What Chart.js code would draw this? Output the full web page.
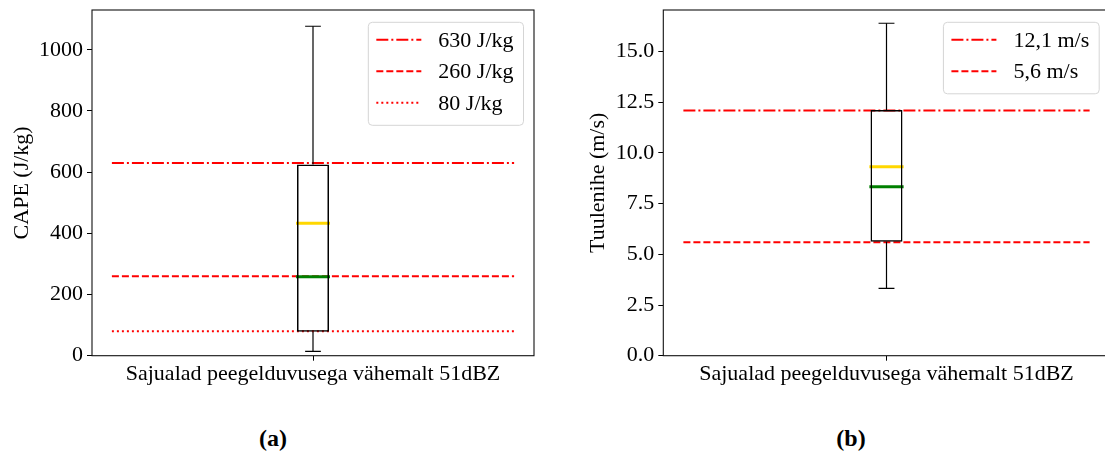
<!DOCTYPE html>
<html>
<head>
<meta charset="utf-8">
<script src="https://cdn.jsdelivr.net/npm/chart.js@4.4.1/dist/chart.umd.min.js"></script>
<style>
  html, body { margin: 0; padding: 0; background: #fff; overflow: hidden; width: 1105px; height: 452px; }
  #wrap { position: relative; width: 1105px; height: 452px; overflow: hidden; }
  canvas { position: absolute; top: 0; }
  #cA { left: 0; }
  #cB { left: 555px; }
  .cap { position: absolute; top: 424px; width: 100px; text-align: center; font: bold 24px 'Liberation Serif', serif; line-height: 28px; color: #000; }
</style>
</head>
<body>
<div id="wrap">
  <canvas id="cA" width="560" height="400"></canvas>
  <canvas id="cB" width="560" height="400"></canvas>
  <div class="cap" style="left:223px">(a)</div>
  <div class="cap" style="left:801px">(b)</div>
</div>
<script>
// ---------- data ----------
const categories = ['Sajualad peegelduvusega vähemalt 51dBZ'];
// box statistics: [lower whisker, Q1, median, mean, Q3, upper whisker]
const capeStats = [14, 78, 258, 433, 625, 1077];
const windStats = [3.32, 5.62, 8.34, 9.32, 12.12, 16.4];
// reference lines
const capeRefValues = [630, 260, 80];
const capeRefLabels = ['630 J/kg', '260 J/kg', '80 J/kg'];
const windRefValues = [12.1, 5.6];
const windRefLabels = ['12,1 m/s', '5,6 m/s'];
// tick values
const capeTicks = [0, 200, 400, 600, 800, 1000];
const windTicks = [0, 2.5, 5, 7.5, 10, 12.5, 15];

// ---------- styles ----------
const FONT = "'Liberation Serif', 'Times New Roman', serif";
Chart.defaults.font.family = FONT;
Chart.defaults.font.size = 22;
Chart.defaults.color = '#000';
const DASHES = [[12, 3, 2, 3], [7, 3], [2, 3]];
const BOX_X = 1, CAP_HALF = 0.0178, MED_HALF = 0.035, REF_X0 = 0.545, REF_X1 = 1.455;

const framePlugin = {
  id: 'frame',
  afterDraw(chart) {
    const { ctx, chartArea: a } = chart;
    ctx.save();
    ctx.strokeStyle = '#111';
    ctx.lineWidth = 1.1;
    ctx.strokeRect(a.left, a.top, a.right - a.left, a.bottom - a.top);
    ctx.restore();
  }
};

const legendPlugin = {
  id: 'insideLegend',
  afterDraw(chart) {
    const items = chart.data.datasets.filter(d => d.isRef);
    const { ctx, chartArea: a } = chart;
    ctx.save();
    ctx.font = '22px ' + FONT;
    const tw = Math.max(...items.map(d => ctx.measureText(d.label).width));
    const w = 8 + 45 + 17 + tw + 10;
    const rowH = 31.5;
    const h = items.length * rowH + 8.5;
    const x = a.right - 10.5 - w, y = a.top + 12.3, r = 4;
    ctx.beginPath();
    ctx.moveTo(x + r, y);
    ctx.arcTo(x + w, y, x + w, y + h, r);
    ctx.arcTo(x + w, y + h, x, y + h, r);
    ctx.arcTo(x, y + h, x, y, r);
    ctx.arcTo(x, y, x + w, y, r);
    ctx.closePath();
    ctx.fillStyle = 'rgba(255,255,255,0.85)';
    ctx.fill();
    ctx.strokeStyle = '#d5d5d5';
    ctx.lineWidth = 1;
    ctx.stroke();
    items.forEach((d, i) => {
      const cy = y + 17.5 + i * rowH;
      ctx.beginPath();
      ctx.setLineDash(d.borderDash);
      ctx.strokeStyle = d.borderColor;
      ctx.lineWidth = d.borderWidth;
      ctx.moveTo(x + 8, cy);
      ctx.lineTo(x + 53, cy);
      ctx.stroke();
      ctx.setLineDash([]);
      ctx.fillStyle = '#000';
      ctx.textBaseline = 'middle';
      ctx.textAlign = 'left';
      ctx.fillText(d.label, x + 70, cy + 1);
    });
    ctx.restore();
  }
};

function makeChart(id, stats, refValues, refLabels, ticks, title, yWidth, padRight, titlePad, fmt) {
  const datasets = [];
  // box (floating bar Q1..Q3)
  datasets.push({ type: 'bar', data: [{ x: BOX_X, y: [stats[1], stats[4]] }], backgroundColor: 'rgba(0,0,0,0)',
    borderColor: '#000', borderWidth: 1.5, borderSkipped: false, barThickness: 32, inflateAmount: 0, order: 0 });
  const seg = (pts, color, width, cap) => ({ type: 'scatter', showLine: true, data: pts, borderColor: color,
    borderWidth: width, pointRadius: 0, borderCapStyle: cap || 'butt', order: 0 });
  datasets.push(seg([{ x: BOX_X, y: stats[0] }, { x: BOX_X, y: stats[1] }], '#000', 1.2));
  datasets.push(seg([{ x: BOX_X, y: stats[4] }, { x: BOX_X, y: stats[5] }], '#000', 1.2));
  datasets.push(seg([{ x: BOX_X - CAP_HALF, y: stats[0] }, { x: BOX_X + CAP_HALF, y: stats[0] }], '#000', 1.2));
  datasets.push(seg([{ x: BOX_X - CAP_HALF, y: stats[5] }, { x: BOX_X + CAP_HALF, y: stats[5] }], '#000', 1.2));
  datasets.push(seg([{ x: BOX_X - MED_HALF, y: stats[3] }, { x: BOX_X + MED_HALF, y: stats[3] }], '#FFD700', 3, 'square'));
  datasets.push(seg([{ x: BOX_X - MED_HALF, y: stats[2] }, { x: BOX_X + MED_HALF, y: stats[2] }], '#008000', 3, 'square'));
  refValues.forEach((v, i) => {
    datasets.push({ type: 'scatter', showLine: true, isRef: true, label: refLabels[i],
      data: [{ x: REF_X0, y: v }, { x: REF_X1, y: v }], borderColor: '#ff0000', borderWidth: 2,
      borderDash: DASHES[i], pointRadius: 0, order: 1 });
  });
  const lo = 0, hi = stats[5] + 0.05 * (stats[5] - stats[0]);
  return new Chart(document.getElementById(id), {
    type: 'scatter',
    data: { datasets },
    options: {
      responsive: false, animation: false, devicePixelRatio: 1,
      layout: { padding: { left: 0, right: padRight, top: 10, bottom: 0 } },
      plugins: { legend: { display: false }, tooltip: { enabled: false } },
      scales: {
        x: {
          type: 'linear', min: 0.5, max: 1.5, offset: false,
          afterBuildTicks: s => { s.ticks = [{ value: BOX_X }]; },
          afterFit: s => { s.height = 44.3; s.paddingLeft = 0; s.paddingRight = 0; },
          grid: { offset: false, drawOnChartArea: false, tickLength: 5, color: '#000', tickColor: '#000' },
          border: { display: false },
          ticks: { padding: 0, maxRotation: 0, minRotation: 0, autoSkip: false,
            callback: (v, i) => categories[i] }
        },
        y: {
          type: 'linear', min: lo, max: hi, offset: false, beginAtZero: false,
          afterBuildTicks: s => { s.ticks = ticks.map(v => ({ value: v })); },
          afterFit: s => { s.width = yWidth; s.paddingTop = 0; s.paddingBottom = 0; },
          grid: { offset: false, drawOnChartArea: false, tickLength: 5, color: '#000', tickColor: '#000' },
          border: { display: false },
          ticks: { padding: 4, autoSkip: false, callback: v => fmt(v) },
          title: { display: true, text: title, padding: { top: titlePad, bottom: 0 }, font: { size: 22 } }
        }
      }
    },
    plugins: [framePlugin, legendPlugin]
  });
}

makeChart('cA', capeStats, capeRefValues, capeRefLabels, capeTicks, 'CAPE (J/kg)', 92, 26, 8.8, v => String(v));
makeChart('cB', windStats, windRefValues, windRefLabels, windTicks, 'Tuulenihe (m/s)', 108.3, 5.3, 30.3, v => v.toFixed(1));
</script>
</body>
</html>
